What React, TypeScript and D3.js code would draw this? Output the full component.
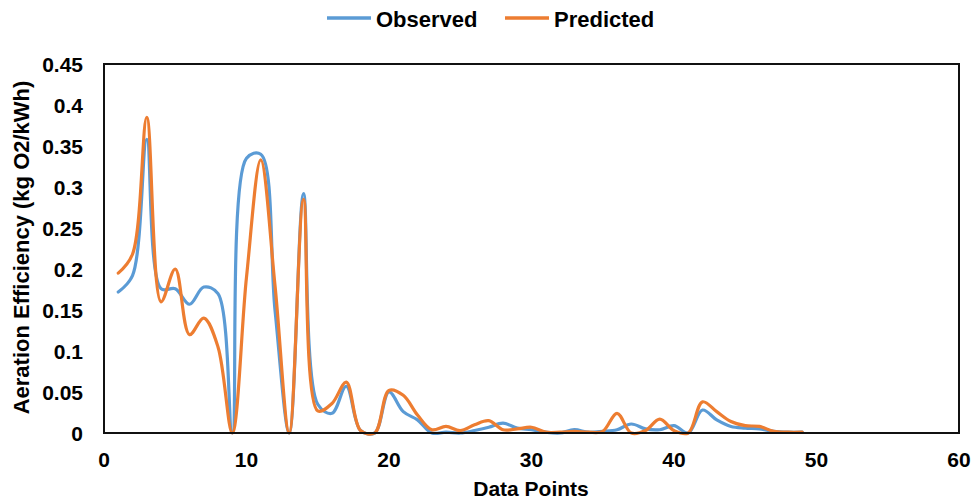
import React from "react";
import * as d3 from "d3";

const xTicks = [0, 10, 20, 30, 40, 50, 60];
const yTicks = [0, 0.05, 0.1, 0.15, 0.2, 0.25, 0.3, 0.35, 0.4, 0.45];

const observed = [
  0.172, 0.192, 0.358, 0.176, 0.176, 0.157, 0.178, 0.17, 0, 0.335,
  0.34, 0.15, 0, 0.292, 0.035, 0.024, 0.057, 0.003, 0, 0.05,
  0.026, 0.016, 0, 0.001, 0, 0.003, 0.007, 0.012, 0.006, 0.004,
  0.001, 0, 0.004, 0.001, 0.002, 0.004, 0.011, 0.005, 0.004, 0.009,
  0, 0.028, 0.016, 0.008, 0.006, 0.005, 0.002, 0.001, 0.001,
];

const predicted = [
  0.195, 0.218, 0.385, 0.16, 0.2, 0.12, 0.14, 0.105, 0, 0.19,
  0.333, 0.18, 0, 0.285, 0.027, 0.036, 0.062, 0.003, 0, 0.052,
  0.046, 0.022, 0.004, 0.008, 0.003, 0.01, 0.015, 0.004, 0.005, 0.007,
  0.001, 0.001, 0.002, 0.001, 0.002, 0.024, 0, 0.003, 0.017, 0.003,
  0, 0.038, 0.026, 0.014, 0.009, 0.008, 0.002, 0.001, 0.001,
];

const seriesNames = ["Observed", "Predicted"];
const colors = ["#5B9BD5", "#ED7D31"];

const W = 974;
const H = 502;
const margin = { left: 104, right: 15, top: 64, bottom: 69 };

export default function App() {
  const x = d3.scaleLinear().domain([0, 60]).range([margin.left, W - margin.right]);
  const y = d3.scaleLinear().domain([0, 0.45]).range([H - margin.bottom, margin.top]);
  const line = d3
    .line<number>()
    .x((_, i) => x(i + 1))
    .y((d) => y(d))
    .curve(d3.curveCatmullRom.alpha(0.5));
  const data = [observed, predicted];
  const font = "'Liberation Sans', Arial, sans-serif";
  const legendX = [327, 505];

  return (
    <svg
      width={W}
      height={H}
      style={{ position: "fixed", left: 0, top: 0, background: "#fff" }}
      fontFamily={font}
    >
      <defs>
        <clipPath id="plotclip">
          <rect x={margin.left} y={margin.top - 5} width={W - margin.left - margin.right} height={H - margin.top - margin.bottom + 8} />
        </clipPath>
      </defs>
      {data.map((d, k) => (
        <path
          key={k}
          d={line(d) || ""}
          fill="none"
          stroke={colors[k]}
          strokeWidth={3.2}
          strokeLinejoin="round"
          strokeLinecap="round"
          clipPath="url(#plotclip)"
        />
      ))}
      <rect
        x={margin.left}
        y={margin.top}
        width={W - margin.left - margin.right}
        height={H - margin.top - margin.bottom}
        fill="none"
        stroke="#111"
        strokeWidth={2}
      />
      {yTicks.map((t) => (
        <text key={t} x={83} y={y(t) + 7.5} textAnchor="end" fontSize={21} fontWeight="bold" fill="#000">
          {String(t)}
        </text>
      ))}
      {xTicks.map((t) => (
        <text key={t} x={x(t)} y={467} textAnchor="middle" fontSize={21} fontWeight="bold" fill="#000">
          {String(t)}
        </text>
      ))}
      <text x={531} y={496} textAnchor="middle" fontSize={21} fontWeight="bold" fill="#000">
        Data Points
      </text>
      <text
        transform={`translate(29, 247.5) rotate(-90)`}
        textAnchor="middle"
        fontSize={22}
        fontWeight="bold"
        fill="#000"
      >
        Aeration Efficiency (kg O2/kWh)
      </text>
      {seriesNames.map((n, k) => (
        <g key={n}>
          <line x1={legendX[k]} x2={legendX[k] + 44} y1={18} y2={18} stroke={colors[k]} strokeWidth={3.5} />
          <text x={legendX[k] + 49} y={27} fontSize={22} fontWeight="bold" fill="#000">
            {n}
          </text>
        </g>
      ))}
    </svg>
  );
}
